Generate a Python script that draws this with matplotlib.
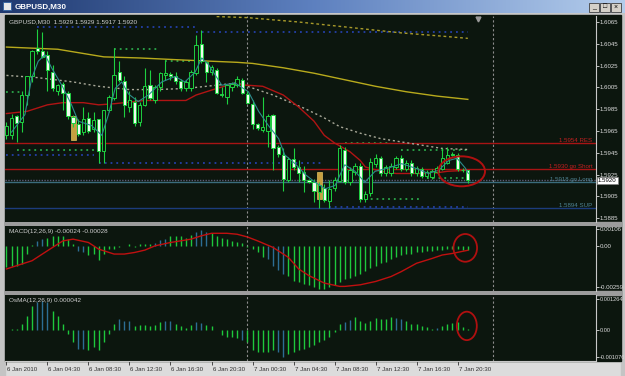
import numpy as np
import matplotlib.pyplot as plt
from matplotlib.patches import Rectangle, Ellipse
from matplotlib.colors import LinearSegmentedColormap
import matplotlib.transforms as mtransforms

plt.rcParams['font.family'] = ['Liberation Sans', 'DejaVu Sans']

W, H = 625, 376

# GBPUSD M30 bars, 6 Jan 00:30 .. 7 Jan 21:30
opens = [1.5961, 1.5961, 1.5979, 1.5973, 1.5998, 1.6015, 1.6041, 1.6038, 1.6035, 1.6019,
         1.6002, 1.6008, 1.6000, 1.5978, 1.5971, 1.5964, 1.5977, 1.5967, 1.5976, 1.5947,
         1.5984, 1.5995, 1.6019, 1.6011, 1.5987, 1.5992, 1.5973, 1.5989, 1.6007, 1.5993,
         1.6005, 1.6016, 1.6017, 1.6015, 1.6011, 1.6004, 1.6004, 1.6018, 1.6045, 1.6028,
         1.6019, 1.6021, 1.5999, 1.5996, 1.6005, 1.6007, 1.6012, 1.5999, 1.5990, 1.5971,
         1.5966, 1.5965, 1.5980, 1.5950, 1.5943, 1.5920, 1.5939, 1.5932, 1.5927, 1.5920,
         1.5918, 1.5909, 1.5913, 1.5901, 1.5913, 1.5919, 1.5948, 1.5918, 1.5927, 1.5933,
         1.5903, 1.5908, 1.5935, 1.5940, 1.5926, 1.5926, 1.5932, 1.5940, 1.5930, 1.5936,
         1.5926, 1.5930, 1.5924, 1.5923, 1.5927, 1.5930, 1.5936, 1.5944, 1.5943, 1.5929,
         1.5929]
highs = [1.5973, 1.5981, 1.5980, 1.6002, 1.6015, 1.6039, 1.6059, 1.6056, 1.6038, 1.6026,
         1.6008, 1.6010, 1.6002, 1.5980, 1.5976, 1.5987, 1.5982, 1.5982, 1.5976, 1.5984,
         1.5998, 1.6041, 1.6029, 1.6015, 1.6002, 1.5996, 1.5992, 1.6023, 1.6021, 1.6007,
         1.6019, 1.6030, 1.6019, 1.6019, 1.6013, 1.6012, 1.6021, 1.6053, 1.6058, 1.6029,
         1.6026, 1.6023, 1.6005, 1.6007, 1.6010, 1.6015, 1.6014, 1.6002, 1.5993, 1.5972,
         1.5996, 1.5981, 1.5981, 1.5952, 1.5949, 1.5941, 1.5949, 1.5938, 1.5933, 1.5921,
         1.5921, 1.5918, 1.5916, 1.5920, 1.5923, 1.5952, 1.5950, 1.5932, 1.5936, 1.5936,
         1.5910, 1.5940, 1.5944, 1.5942, 1.5934, 1.5936, 1.5942, 1.5943, 1.5938, 1.5938,
         1.5933, 1.5932, 1.5929, 1.5930, 1.5933, 1.5949, 1.5950, 1.5946, 1.5945, 1.5931,
         1.5929]
lows = [1.5958, 1.5958, 1.5955, 1.5964, 1.5989, 1.6010, 1.6036, 1.6032, 1.6002, 1.6002,
        1.5998, 1.5984, 1.5976, 1.5969, 1.5960, 1.5961, 1.5963, 1.5964, 1.5936, 1.5936,
        1.5982, 1.5993, 1.6010, 1.5978, 1.5982, 1.5970, 1.5970, 1.5988, 1.5993, 1.5991,
        1.6002, 1.6012, 1.6012, 1.6008, 1.6002, 1.6002, 1.6002, 1.6016, 1.6027, 1.6010,
        1.6016, 1.5999, 1.5996, 1.5990, 1.6002, 1.6005, 1.5999, 1.5990, 1.5967, 1.5966,
        1.5964, 1.5950, 1.5929, 1.5941, 1.5910, 1.5918, 1.5929, 1.5918, 1.5909, 1.5917,
        1.5900, 1.5894, 1.5900, 1.5894, 1.5910, 1.5918, 1.5916, 1.5915, 1.5925, 1.5900,
        1.5900, 1.5905, 1.5932, 1.5924, 1.5924, 1.5924, 1.5930, 1.5928, 1.5928, 1.5924,
        1.5924, 1.5922, 1.5922, 1.5921, 1.5926, 1.5929, 1.5935, 1.5942, 1.5928, 1.5927,
        1.5917]
closes = [1.5970, 1.5977, 1.5972, 1.5998, 1.6015, 1.6038, 1.6038, 1.6033, 1.6021, 1.6004,
          1.6007, 1.6000, 1.5979, 1.5972, 1.5962, 1.5976, 1.5965, 1.5975, 1.5947, 1.5984,
          1.5996, 1.6016, 1.6012, 1.5989, 1.5993, 1.5972, 1.5989, 1.6006, 1.5995, 1.6005,
          1.6018, 1.6018, 1.6015, 1.6011, 1.6004, 1.6010, 1.6019, 1.6044, 1.6029, 1.6019,
          1.6024, 1.6000, 1.5998, 1.6007, 1.6008, 1.6013, 1.6000, 1.5991, 1.5971, 1.5968,
          1.5969, 1.5979, 1.5949, 1.5944, 1.5921, 1.5939, 1.5932, 1.5926, 1.5920, 1.5918,
          1.5910, 1.5915, 1.5902, 1.5912, 1.5920, 1.5949, 1.5918, 1.5929, 1.5933, 1.5903,
          1.5907, 1.5937, 1.5940, 1.5926, 1.5932, 1.5933, 1.5940, 1.5930, 1.5936, 1.5926,
          1.5931, 1.5924, 1.5927, 1.5928, 1.5931, 1.5940, 1.5943, 1.5943, 1.5930, 1.5929,
          1.5920]

# moving averages (bar index, price)
yellow_bars = [0, 10, 19, 26, 35, 45, 48, 54, 60, 66, 72, 78, 84, 90]
yellow_vals = [1.6042, 1.6040, 1.6033, 1.6032, 1.6030, 1.6028, 1.6027, 1.6023, 1.6018, 1.6012,
               1.6006, 1.6001, 1.5997, 1.5994]
slow_bars = [41, 47, 57, 67, 77, 85, 90]
slow_vals = [1.6070, 1.6069, 1.6065, 1.6060, 1.6055, 1.6052, 1.6050]
gray_bars = [0, 6, 13, 18, 24, 29, 35, 41, 45, 47, 52, 58, 62, 65, 69, 73, 77, 81, 85, 90]
gray_vals = [1.6016, 1.6014, 1.6010, 1.6006, 1.6003, 1.6003, 1.6004, 1.6007, 1.6009, 1.6006,
             1.5998, 1.5986, 1.5977, 1.5969, 1.5963, 1.5958, 1.5955, 1.5952, 1.5949, 1.5948]
red_bars = [0, 4, 8, 11, 15, 18, 21, 27, 35, 37, 41, 44, 47, 50, 54, 57, 60, 62, 64, 67, 69,
            70, 73, 76, 83, 86, 90]
red_vals = [1.5981, 1.5983, 1.5989, 1.5991, 1.5991, 1.5989, 1.5990, 1.5993, 1.5993, 1.5998,
            1.6004, 1.6008, 1.6007, 1.6006, 1.5998, 1.5987, 1.5974, 1.5961, 1.5954, 1.5946,
            1.5938, 1.5932, 1.5928, 1.5926, 1.5926, 1.5928, 1.5929]
teal_bars = [1, 3.6, 4.9, 6.2, 7.5, 8.8, 10.8, 12.7, 14, 16.6, 18.6, 19.9, 21.2, 22.5, 23.8,
             25.7, 27.7, 30.3, 32.9, 34.8, 36.8, 38.1, 39.4, 42, 44.6, 47.2, 49.2, 51.1, 53.1,
             54.3, 56.3, 58.3, 60.2, 62.2, 64.1, 66, 68, 69.9, 71.9, 74.5, 77.1, 79.7, 82.3,
             84.3, 86.3, 87.9, 89.5, 90.1]
teal_vals = [1.5964, 1.5980, 1.6013, 1.6029, 1.6035, 1.6023, 1.6007, 1.5989, 1.5974, 1.5970,
             1.5961, 1.5980, 1.6004, 1.6010, 1.5999, 1.5992, 1.5998, 1.6010, 1.6015, 1.6010,
             1.6019, 1.6032, 1.6026, 1.6007, 1.6009, 1.6001, 1.5983, 1.5970, 1.5958, 1.5943,
             1.5935, 1.5925, 1.5918, 1.5912, 1.5915, 1.5934, 1.5928, 1.5918, 1.5928, 1.5931,
             1.5935, 1.5931, 1.5926, 1.5929, 1.5938, 1.5940, 1.5931, 1.5926]

# dotted fractal levels
lvl_price = [1.6060, 1.6056, 1.6040, 1.6001, 1.6029, 1.5948, 1.5943, 1.5936, 1.5954, 1.5948,
             1.5903, 1.5922, 1.5895]
lvl_from = [6, 37, 21, 0, 31, 2, 0, 18, 66, 77, 70, 82, 63]
lvl_to = [37, 90, 30, 3, 36, 18, 17, 62, 75, 90, 81, 90, 90]
lvl_kind = ['sup', 'sup', 'res', 'res', 'res', 'res', 'sup', 'sup', 'res', 'res', 'res', 'res', 'sup']

# highlighted bars
box_bars = [13, 61]
box_top = [1.5979, 1.5927]
box_bot = [1.5957, 1.5903]

# manual levels
levels = [1.5954, 1.5930, 1.5918, 1.5894]
level_names = ['1.5954 RES', '1.5930 go Short', '1.5918 go Long', '1.5894 SUP']
bid = 1.5920

price_ticks = [1.6065, 1.6045, 1.6025, 1.6005, 1.5985, 1.5965, 1.5945, 1.5925, 1.5905, 1.5885]

macd = [-0.00135, -0.00125, -0.00125, -0.00115, -0.0005, 0.00003, 0.0003, 0.0004, 0.0005, 0.0006,
        0.0006, 0.0006, 0.0004, 0.0001, -0.0003, -0.0004, -0.0006, -0.0005, -0.0009, -0.0005,
        -0.0002, -0.0002, -0.0001, 0.00002, 0.0001, -0.0001, 0.0001, 0.0001, 0.0001, 0.0002,
        0.00035, 0.0004, 0.0006, 0.0006, 0.0006, 0.0005, 0.0007, 0.0009, 0.001, 0.0009,
        0.0008, 0.0006, 0.0005, 0.0004, 0.0003, 0.00027, 0.0002, -0.0001, -0.0002, -0.0004,
        -0.0007, -0.0008, -0.0013, -0.0015, -0.0018, -0.0019, -0.0022, -0.0023, -0.0024, -0.0025,
        -0.0026, -0.0027, -0.0027, -0.0026, -0.0025, -0.0023, -0.0021, -0.0020, -0.0019, -0.0018,
        -0.0016, -0.0014, -0.0013, -0.0011, -0.0010, -0.0008, -0.0007, -0.0006, -0.0005, -0.0005,
        -0.0004, -0.0004, -0.0003, -0.0003, -0.00025, -0.00025, -0.0002, -0.0002, -0.0002, -0.00025,
        -0.00024]
sig_bars = [0, 5, 8, 11, 13, 16, 18, 21, 23, 25, 27, 29, 32, 36, 38, 40, 43, 45, 47, 49, 52,
            55, 57, 59, 62, 65, 66, 69, 72, 75, 77, 80, 83, 85, 87, 90]
sig_vals = [-0.00146, -0.00094, -0.00031, 0.00031, 0.00042, 0.00021, -0.00021, -0.00052, -0.00052,
            -0.00042, -0.00027, 0.0, 0.00021, 0.00042, 0.00063, 0.00079, 0.00079, 0.00073, 0.00056,
            0.00031, -0.0001, -0.00073, -0.00146, -0.00188, -0.00235, -0.00256, -0.00256, -0.00246,
            -0.00225, -0.00194, -0.00163, -0.0011, -0.0008, -0.00058, -0.00048, -0.00028]
osma = [0.00002, 0.00007, 0.00007, 0.00027, 0.0006, 0.001, 0.00116, 0.0012, 0.00116, 0.0008,
        0.00057, 0.00027, -0.00014, -0.00048, -0.00075, -0.00075, -0.0008, -0.00068, -0.0008, -0.00048,
        -0.00014, 0.00027, 0.00048, 0.0004, 0.0004, 0.00016, 0.0002, 0.0002, 0.00016, 0.0002,
        0.00034, 0.0004, 0.00038, 0.00027, 0.00016, 0.0001, 0.0002, 0.00034, 0.0003, 0.0002,
        0.00016, 0.00001, -0.0002, -0.00027, -0.00027, -0.0003, -0.0004, -0.00048, -0.0008, -0.00088,
        -0.00088, -0.00088, -0.0008, -0.00088, -0.0011, -0.00095, -0.00088, -0.0008, -0.00075, -0.00068,
        -0.0006, -0.00048, -0.0004, -0.00027, -0.00007, 0.00027, 0.00034, 0.00044, 0.00054, 0.00038,
        0.0003, 0.0004, 0.0005, 0.00048, 0.00048, 0.00054, 0.0005, 0.00048, 0.00038, 0.00027,
        0.00027, 0.00016, 0.00014, 0.00007, 0.0001, 0.00016, 0.00024, 0.0003, 0.00034, 0.00014,
        0.000042]
macd_blue = [6, 7, 14, 15, 29, 30, 31, 37, 38, 39, 51, 52, 53, 54]
osma_blue = [6, 7, 8, 14, 15, 22, 23, 24, 31, 32, 37, 38, 46, 53, 54, 66, 67, 76, 77, 84]

time_ticks = [0, 8, 16, 24, 32, 40, 48, 56, 64, 72, 80, 88]
time_labels = ['6 Jan 2010', '6 Jan 04:30', '6 Jan 08:30', '6 Jan 12:30', '6 Jan 16:30',
               '6 Jan 20:30', '7 Jan 00:30', '7 Jan 04:30', '7 Jan 08:30', '7 Jan 12:30',
               '7 Jan 16:30', '7 Jan 20:30']
day_breaks = [47, 95]
shift_bar = 92

BG = '#0c160e'
WICK = '#1ed040'
BEAR = '#eefcee'
FS = 4.4

fig = plt.figure(figsize=(W / 100, H / 100), dpi=100)
fig.patch.set_facecolor('#dcdcdc')

# window chrome
chrome = fig.add_axes([0, 0, 1, 1])
chrome.set_xlim(0, W)
chrome.set_ylim(H, 0)
chrome.axis('off')
chrome.add_patch(Rectangle((0, 0), W, 16, color='#c8c8c8'))
chrome.add_patch(Rectangle((0, 0), 5, H, color='#c4c4c4'))
chrome.add_patch(Rectangle((621, 0), 4, H, color='#c4c4c4'))
chrome.add_patch(Rectangle((5, 15), 616, 346, color=BG))
grad = LinearSegmentedColormap.from_list('tb', ['#203a70', '#5d80bf', '#b4cdec'])
chrome.imshow(np.linspace(0, 1, 256)[None, :], cmap=grad, aspect='auto',
              extent=(0, W, 13, 0), zorder=1)
chrome.add_patch(Rectangle((3, 2), 8, 8, facecolor='#e8e8e8', edgecolor='#3060a0', lw=0.6, zorder=2))
chrome.text(15, 7, 'GBPUSD,M30', color='white', fontsize=5.8, fontweight='bold', va='center', zorder=2)
for bx, glyph in zip([589, 600, 611], ['_', '\u25a1', '\u00d7']):
    chrome.add_patch(Rectangle((bx, 2.5), 10, 9, facecolor='#d4d0c8', edgecolor='#404040', lw=0.6, zorder=2))
    chrome.text(bx + 5, 7, glyph, fontsize=5, ha='center', va='center', color='black', zorder=3)
chrome.add_patch(Rectangle((5, 222), 616, 4, color='#9c9c9c'))
chrome.add_patch(Rectangle((5, 291), 616, 4, color='#9c9c9c'))

xl = (-0.28, 115.0)


def panel(y0, y1, fs=FS):
    ax = fig.add_axes([5 / W, 1 - y1 / H, 591 / W, (y1 - y0) / H])
    ax.set_facecolor(BG)
    ax.set_xlim(*xl)
    for s in ['top', 'left', 'bottom']:
        ax.spines[s].set_visible(False)
    ax.spines['right'].set_color('#c8c8c8')
    ax.spines['right'].set_linewidth(0.8)
    ax.yaxis.tick_right()
    ax.tick_params(axis='y', colors='#dcdcdc', labelsize=fs, length=2, width=0.6, pad=0.8)
    ax.tick_params(axis='x', bottom=False, labelbottom=False)
    for d in day_breaks:
        ax.axvline(d, color='#8c8c8c', ls=(0, (2, 2)), lw=0.8, zorder=1)
    return ax


# ---- main price panel ----
ax = panel(16, 222)
ax.set_ylim(1.58815, 1.60705)
ax.set_yticks(price_ticks)
ax.set_yticklabels(['%.4f' % p for p in price_ticks])

lvl_colors = {'sup': '#2440a8', 'res': '#2ca84a'}
for p, a, b, k in zip(lvl_price, lvl_from, lvl_to, lvl_kind):
    ax.hlines(p, a, b, color=lvl_colors[k], lw=1.3, ls=(0, (1, 2.2)), zorder=2)

level_cols = ['#a81414', '#a81414', '#3a6c7c', '#1c3c7c']
label_cols = ['#c42020', '#c42020', '#4f8494', '#4f8494']
ax.axhline(bid, color='#5c5c78', lw=1.0, ls=(0, (1, 1)), zorder=2)
for p, name, lc, tc in zip(levels, level_names, level_cols, label_cols):
    ax.axhline(p, color=lc, lw=1.0, zorder=2)
    ax.text(114.3, p + 0.00004, name, color=tc, fontsize=FS, ha='right', va='bottom', zorder=6)

for b, t, bt in zip(box_bars, box_top, box_bot):
    ax.add_patch(Rectangle((b - 0.5, bt), 1.0, t - bt, facecolor='#c8a040', edgecolor='#e0c060',
                           lw=0.5, zorder=2.5))

ax.plot(slow_bars, slow_vals, color='#a89a2a', lw=1.0, ls=(0, (2, 2)), zorder=2)
ax.plot(yellow_bars, yellow_vals, color='#b8aa1c', lw=1.0, zorder=2)
ax.plot(gray_bars, gray_vals, color='#a8a898', lw=1.0, ls=(0, (1.5, 2)), zorder=2)
ax.plot(red_bars, red_vals, color='#b01414', lw=1.0, zorder=2)

bars = np.arange(len(opens))
ax.vlines(bars, lows, highs, color=WICK, lw=0.8, zorder=3)
for i in bars:
    o, c = opens[i], closes[i]
    lo, hi = min(o, c), max(o, c)
    fc = BEAR if c < o else BG
    ax.add_patch(Rectangle((i - 0.32, lo), 0.64, max(hi - lo, 0.00003), facecolor=fc,
                           edgecolor=WICK, lw=0.7, zorder=4))
ax.plot(teal_bars, teal_vals, color='#2c8c8c', lw=0.8, zorder=5)

ax.add_patch(Ellipse((88.8, 1.5928), 9.1, 0.00275, fill=False, edgecolor='#b01010', lw=1.4, zorder=7))

ax.text(0.006, 0.985, 'GBPUSD,M30  1.5929 1.5929 1.5917 1.5920', transform=ax.transAxes,
        color='#cfcfcf', fontsize=FS + 0.2, va='top', ha='left')
tr = mtransforms.blended_transform_factory(ax.transAxes, ax.transData)
ax.text(1.003, bid - 0.00003, '1.5920', transform=tr, fontsize=FS, color='black', va='center', ha='left',
        bbox=dict(boxstyle='square,pad=0.2', facecolor='white', edgecolor='#808080', lw=0.5),
        zorder=8, clip_on=False)
ax.plot([shift_bar], [0.985], marker='v', ms=3.5, color='#9a9a9a',
        transform=ax.get_xaxis_transform(), clip_on=False, zorder=8)

# ---- MACD panel ----
m = panel(226, 291)
m.set_ylim(-0.00285, 0.00125)
m.set_yticks([0.00106, 0.0, -0.00259])
m.set_yticklabels(['0.00106', '0.00', '-0.00259'])
mcol = ['#2c6e94' if i in macd_blue else '#1ec83c' for i in bars]
m.vlines(bars, 0, macd, colors=mcol, lw=1.0, zorder=3)
m.plot(sig_bars, sig_vals, color='#c01010', lw=1.0, zorder=4)
m.add_patch(Ellipse((89.5, -0.00013), 4.6, 0.00175, fill=False, edgecolor='#b01010', lw=1.3, zorder=7))
m.text(0.006, 0.95, 'MACD(12,26,9) -0.00024 -0.00028', transform=m.transAxes,
       color='#cfcfcf', fontsize=FS + 0.2, va='top', ha='left')

# ---- OsMA panel ----
o = panel(295, 361, fs=FS - 0.3)
o.set_ylim(-0.00125, 0.00144)
o.set_yticks([0.001264, 0.0, -0.001076])
o.set_yticklabels(['0.001264', '0.00', '-0.001076'])
ocol = ['#2c6e94' if i in osma_blue else '#1ec83c' for i in bars]
o.vlines(bars, 0, osma, colors=ocol, lw=1.0, zorder=3)
o.add_patch(Ellipse((89.8, 0.00018), 3.9, 0.00116, fill=False, edgecolor='#b01010', lw=1.3, zorder=7))
o.text(0.006, 0.95, 'OsMA(12,26,9) 0.000042', transform=o.transAxes,
       color='#cfcfcf', fontsize=FS + 0.2, va='top', ha='left')
o.spines['bottom'].set_visible(True)
o.spines['bottom'].set_color('#c8c8c8')
o.set_xticks(time_ticks)
o.set_xticklabels(time_labels)
o.tick_params(axis='x', bottom=True, labelbottom=True, colors='#303030', labelsize=FS,
              length=3, width=0.6, pad=1)
offset = mtransforms.ScaledTranslation(1 / 100, 0, fig.dpi_scale_trans)
for lab in o.get_xticklabels():
    lab.set_ha('left')
    lab.set_transform(lab.get_transform() + offset)

fig.savefig('out.png', dpi=100, facecolor=fig.get_facecolor())
